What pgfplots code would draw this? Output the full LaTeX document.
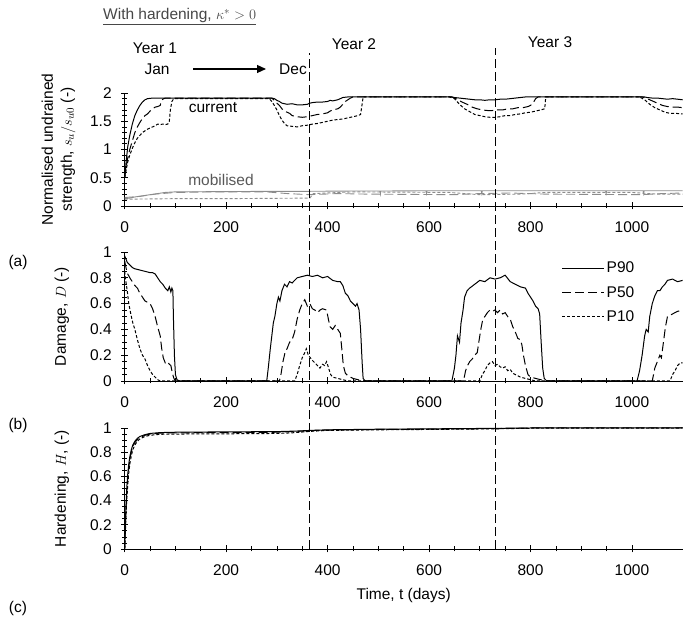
\documentclass[border=0pt]{standalone}
\usepackage{fontspec}
\setmainfont{Liberation Sans}
\usepackage{pgfplots}
\pgfplotsset{compat=1.18}
\usetikzlibrary{arrows.meta}

\newcommand{\fs}{\fontsize{15.5}{19}\selectfont}
\tikzset{vline/.style={black, line width=0.9pt, dash pattern=on 9pt off 4pt}}
\pgfplotsset{
  panel/.style={
    scale only axis, width=558pt,
    xmin=0, xmax=1100,
    axis x line=bottom, axis y line=left,
    axis line style={line width=0.9pt,-},
    xtick={0,200,...,1000}, minor x tick num=3,
    tick align=center, major tick length=7pt, minor tick length=5pt,
    tick style={line width=0.7pt, black},
    ticklabel style={font=\fs},
    xticklabel style={yshift=-9pt},
    yticklabel style={xshift=-6pt},
    /pgf/number format/assume math mode=true,
    /pgf/number format/1000 sep={},
    every axis y label/.style={at={(axis description cs:-0.1124,0.5)}, rotate=90, anchor=center, font=\fs, align=center},
    every axis x label/.style={at={(axis description cs:0.5,0)}, yshift=-46pt, anchor=center, font=\fs},
  },
  p90/.style={black, line width=1pt, solid},
  p50/.style={black, line width=1pt, dash pattern=on 9pt off 4pt},
  p10/.style={black, line width=1pt, dash pattern=on 3pt off 2pt},
  m90/.style={black!45, line width=0.9pt, solid},
  m50/.style={black!45, line width=0.9pt, dash pattern=on 9pt off 4pt},
  m10/.style={black!45, line width=0.9pt, dash pattern=on 3pt off 2pt},
}

\begin{document}
\begin{tikzpicture}
\path[use as bounding box] (0pt,0pt) rectangle (686pt,621pt);

% ---------------- (a) strength ----------------
\begin{axis}[panel, at={(124.7pt,415pt)}, anchor=south west, height=113pt,
  ymin=0, ymax=2, ytick={0,0.5,1,1.5,2}, minor y tick num=4,
  every axis y label/.style={at={(axis description cs:-0.1186,0.5)}, rotate=90, anchor=center, font=\fs, align=center},
  ylabel={Normalised undrained\\strength, $s_u/s_{u0}$ (-)}]
% mobilised (grey)
\addplot[m90] coordinates {(0,0.13) (10,0.14) (20,0.16) (35,0.18) (50,0.2) (65,0.22) (80,0.24) (100,0.25) (200,0.255) (300,0.26) (365,0.26) (450,0.265) (503,0.265) (504,0.21) (505,0.265) (594,0.27) (595,0.22) (596,0.27) (703,0.27) (704,0.22) (705,0.27) (948,0.27) (949,0.22) (950,0.27) (1022,0.27) (1023,0.22) (1024,0.27) (1100,0.27)};
\addplot[m50] coordinates {(0,0.15) (30,0.17) (60,0.21) (100,0.24) (180,0.25) (280,0.25) (320,0.22) (365,0.2) (420,0.22) (480,0.21) (650,0.2) (700,0.22) (760,0.23) (830,0.21) (1020,0.2) (1060,0.22) (1100,0.23)};
\addplot[m10] coordinates {(0,0.12) (100,0.13) (200,0.13) (365,0.14) (372,0.22) (450,0.25) (640,0.24) (700,0.2) (780,0.21) (830,0.24) (1000,0.24) (1050,0.21) (1100,0.21)};
% current
\addplot[p90] coordinates {(0,0.5) (3,0.8) (6,1.05) (10,1.25) (15,1.45) (20,1.6) (25,1.7) (30,1.78) (35,1.84) (40,1.88) (45,1.9) (55,1.91) (60,1.91) (290,1.91) (295,1.9) (300,1.87) (305,1.85) (310,1.82) (320,1.8) (330,1.81) (340,1.79) (350,1.79) (360,1.8) (365,1.82) (370,1.83) (380,1.84) (390,1.84) (400,1.85) (405,1.87) (410,1.86) (420,1.88) (425,1.9) (430,1.92) (440,1.93) (645,1.93) (650,1.92) (660,1.91) (670,1.9) (680,1.89) (690,1.88) (700,1.88) (710,1.87) (720,1.88) (730,1.88) (740,1.89) (750,1.89) (760,1.9) (770,1.91) (780,1.92) (790,1.93) (1025,1.93) (1030,1.92) (1040,1.91) (1050,1.91) (1060,1.9) (1070,1.89) (1080,1.9) (1090,1.89) (1100,1.88)};
\addplot[p50] coordinates {(0,0.5) (3,0.7) (6,0.85) (10,1.0) (15,1.15) (20,1.3) (25,1.4) (30,1.48) (35,1.55) (40,1.6) (45,1.63) (50,1.68) (55,1.72) (60,1.75) (65,1.76) (70,1.78) (72,1.85) (75,1.89) (80,1.91) (290,1.91) (295,1.87) (300,1.82) (305,1.78) (310,1.72) (315,1.68) (320,1.66) (325,1.64) (330,1.6) (340,1.58) (350,1.57) (360,1.58) (370,1.6) (380,1.62) (390,1.63) (400,1.65) (405,1.68) (410,1.7) (420,1.72) (425,1.75) (430,1.8) (435,1.85) (440,1.88) (445,1.91) (450,1.93) (645,1.93) (655,1.89) (665,1.84) (675,1.8) (685,1.75) (695,1.72) (705,1.7) (715,1.69) (725,1.69) (735,1.7) (745,1.7) (755,1.72) (765,1.72) (775,1.74) (785,1.74) (795,1.76) (800,1.78) (805,1.82) (810,1.9) (815,1.93) (1020,1.93) (1030,1.9) (1040,1.86) (1050,1.82) (1060,1.78) (1070,1.76) (1080,1.75) (1090,1.75) (1100,1.74)};
\addplot[p10] coordinates {(0,0.5) (3,0.65) (6,0.78) (10,0.9) (15,1.02) (20,1.12) (25,1.2) (30,1.25) (35,1.3) (40,1.33) (45,1.36) (50,1.38) (55,1.4) (60,1.42) (65,1.45) (70,1.44) (75,1.45) (80,1.44) (85,1.45) (88,1.5) (90,1.7) (93,1.85) (96,1.89) (100,1.9) (285,1.9) (290,1.85) (295,1.78) (300,1.7) (305,1.6) (310,1.52) (315,1.46) (320,1.42) (330,1.41) (340,1.4) (350,1.42) (360,1.43) (370,1.45) (380,1.46) (390,1.48) (400,1.5) (410,1.52) (420,1.53) (430,1.54) (440,1.56) (450,1.58) (460,1.6) (465,1.62) (468,1.8) (470,1.93) (640,1.93) (650,1.9) (660,1.8) (670,1.72) (680,1.67) (690,1.62) (700,1.6) (710,1.58) (720,1.57) (730,1.57) (740,1.58) (750,1.6) (760,1.6) (770,1.62) (780,1.63) (790,1.65) (800,1.66) (810,1.68) (820,1.7) (828,1.72) (830,1.93) (1015,1.93) (1025,1.88) (1035,1.8) (1045,1.74) (1055,1.7) (1065,1.66) (1075,1.64) (1085,1.64) (1100,1.63)};
\end{axis}

% ---------------- (b) damage ----------------
\begin{axis}[panel, at={(124.7pt,240pt)}, anchor=south west, height=129pt,
  ymin=0, ymax=1, ytick={0,0.2,...,1}, minor y tick num=3,
  ylabel={Damage, $D$ (-)},
  legend style={at={(axis cs:861,0.94)}, anchor=north west, draw=none, fill=none, font=\fs, row sep=8pt, inner sep=0pt},
  legend cell align=left,
  legend image code/.code={\draw[#1] (0pt,0pt) -- (42pt,0pt);}]
\addplot[p90] coordinates {(0,0.97) (2,0.95) (5,0.92) (10,0.9) (15,0.88) (20,0.87) (30,0.86) (40,0.85) (50,0.84) (55,0.84) (60,0.83) (65,0.8) (70,0.77) (75,0.75) (80,0.72) (85,0.7) (88,0.73) (91,0.69) (93,0.72) (95,0.7) (96,0.5) (98,0.2) (100,0.05) (103,0.01) (108,0) (280,0) (283,0.1) (287,0.25) (290,0.35) (293,0.45) (296,0.5) (300,0.6) (303,0.65) (306,0.62) (310,0.7) (315,0.75) (320,0.73) (325,0.77) (330,0.76) (335,0.78) (340,0.8) (350,0.81) (360,0.82) (370,0.81) (380,0.82) (390,0.8) (400,0.81) (410,0.78) (420,0.77) (425,0.77) (430,0.74) (435,0.68) (440,0.66) (445,0.62) (450,0.6) (455,0.58) (458,0.6) (462,0.55) (465,0.4) (468,0.15) (470,0.02) (474,0) (645,0) (650,0.1) (653,0.2) (656,0.35) (660,0.3) (663,0.45) (667,0.55) (670,0.65) (675,0.7) (680,0.72) (690,0.75) (700,0.78) (710,0.77) (720,0.8) (730,0.79) (740,0.8) (750,0.82) (760,0.77) (770,0.75) (780,0.73) (790,0.72) (795,0.68) (800,0.65) (805,0.62) (810,0.58) (815,0.56) (818,0.52) (821,0.3) (824,0.1) (827,0.02) (832,0) (1010,0) (1015,0.08) (1020,0.2) (1025,0.35) (1028,0.4) (1032,0.38) (1035,0.5) (1040,0.6) (1045,0.66) (1050,0.7) (1055,0.7) (1060,0.73) (1065,0.75) (1070,0.78) (1080,0.79) (1090,0.77) (1100,0.78)};
\addlegendentry{P90}
\addplot[p50] coordinates {(0,0.93) (3,0.87) (6,0.83) (10,0.8) (15,0.77) (20,0.74) (25,0.72) (30,0.68) (35,0.65) (40,0.62) (45,0.61) (50,0.6) (55,0.56) (60,0.5) (65,0.42) (70,0.35) (73,0.25) (76,0.18) (80,0.14) (84,0.15) (88,0.13) (91,0.12) (94,0.06) (97,0.02) (100,0) (305,0) (308,0.05) (312,0.15) (316,0.22) (320,0.25) (325,0.3) (330,0.32) (335,0.38) (340,0.48) (345,0.55) (350,0.6) (355,0.63) (360,0.58) (365,0.6) (370,0.56) (375,0.55) (380,0.53) (385,0.55) (390,0.56) (398,0.55) (402,0.47) (405,0.42) (410,0.4) (415,0.43) (420,0.4) (425,0.37) (428,0.25) (431,0.12) (435,0.06) (440,0.04) (445,0.03) (450,0.02) (460,0.01) (470,0) (668,0) (672,0.08) (676,0.12) (680,0.15) (685,0.17) (690,0.2) (695,0.22) (698,0.3) (702,0.4) (706,0.48) (710,0.5) (715,0.53) (720,0.55) (725,0.54) (730,0.55) (735,0.53) (740,0.55) (745,0.52) (750,0.53) (755,0.5) (760,0.48) (765,0.42) (770,0.38) (775,0.33) (780,0.32) (783,0.28) (786,0.2) (790,0.12) (795,0.05) (800,0.03) (810,0.02) (820,0.01) (830,0) (1040,0) (1045,0.1) (1050,0.15) (1055,0.2) (1058,0.18) (1062,0.3) (1066,0.42) (1070,0.5) (1080,0.52) (1090,0.54) (1100,0.55)};
\addlegendentry{P50}
\addplot[p10] coordinates {(0,0.85) (2,0.78) (5,0.7) (8,0.6) (12,0.52) (16,0.45) (20,0.4) (25,0.32) (30,0.25) (35,0.2) (40,0.17) (45,0.12) (50,0.08) (55,0.05) (60,0.03) (65,0.01) (70,0) (335,0) (340,0.05) (345,0.12) (350,0.18) (355,0.22) (358,0.25) (362,0.2) (366,0.18) (370,0.16) (375,0.14) (380,0.12) (385,0.1) (390,0.13) (394,0.12) (398,0.15) (402,0.1) (406,0.05) (410,0.03) (420,0.02) (430,0.01) (440,0) (700,0) (705,0.05) (710,0.08) (715,0.12) (720,0.14) (725,0.15) (730,0.12) (735,0.13) (740,0.11) (745,0.1) (750,0.11) (755,0.08) (760,0.09) (765,0.06) (770,0.05) (775,0.04) (780,0.03) (790,0.02) (800,0.01) (810,0) (1075,0) (1080,0.05) (1085,0.08) (1090,0.12) (1095,0.14) (1100,0.14)};
\addlegendentry{P10}
\end{axis}

% ---------------- (c) hardening ----------------
\begin{axis}[panel, at={(124.7pt,72pt)}, anchor=south west, height=121pt,
  ymin=0, ymax=1, ytick={0,0.2,...,1}, minor y tick num=3, clip=false,
  ylabel={Hardening, $H$, (-)}, xlabel={Time, t (days)}]
\addplot[p10] coordinates {(0,0) (1,0.1) (2,0.22) (4,0.4) (6,0.53) (8,0.63) (10,0.7) (13,0.77) (16,0.82) (20,0.86) (25,0.89) (30,0.91) (40,0.93) (50,0.94) (70,0.948) (100,0.95) (200,0.952) (300,0.955) (330,0.96) (365,0.972) (400,0.98) (500,0.985) (600,0.988) (730,0.993) (800,0.998) (1100,1)};
\addplot[p50] coordinates {(0,0) (1,0.12) (2,0.27) (4,0.46) (6,0.58) (8,0.67) (10,0.74) (13,0.8) (16,0.85) (20,0.88) (25,0.905) (30,0.92) (40,0.94) (50,0.95) (70,0.958) (100,0.96) (200,0.962) (300,0.965) (340,0.972) (365,0.978) (400,0.983) (500,0.988) (600,0.99) (730,0.995) (800,1) (1100,1)};
\addplot[p90] coordinates {(0,0) (1,0.15) (2,0.3) (4,0.5) (6,0.62) (8,0.7) (10,0.76) (13,0.82) (16,0.86) (20,0.89) (25,0.915) (30,0.93) (40,0.945) (50,0.955) (70,0.962) (100,0.965) (200,0.968) (300,0.97) (340,0.975) (365,0.98) (400,0.985) (500,0.99) (600,0.993) (730,0.997) (800,1) (1100,1)};
\draw[vline] (axis cs:365,0) -- ++(0pt,496pt);
\draw[vline] (axis cs:730,0) -- ++(0pt,501pt);
\end{axis}

% ---------------- annotations ----------------
\node[anchor=west, inner sep=0pt, text=black!72, font=\fs] at (103pt,604pt) {\underline{With hardening, $\kappa^{*} > 0$}};
\node[font=\fs] at (155pt,573pt) {Year 1};
\node[font=\fs] at (354pt,577pt) {Year 2};
\node[font=\fs] at (550pt,579pt) {Year 3};
\node[font=\fs] at (157pt,552pt) {Jan};
\node[font=\fs] at (293pt,552pt) {Dec};
\draw[line width=1.1pt, -{Triangle[length=9pt,width=8pt]}] (193pt,552pt) -- (266pt,552pt);
\node[font=\fs] at (213pt,513pt) {current};
\node[font=\fs, text=black!65] at (221pt,441pt) {mobilised};
\node[font=\fs] at (18pt,359pt) {(a)};
\node[font=\fs] at (18pt,196pt) {(b)};
\node[font=\fs] at (18pt,13pt) {(c)};
\end{tikzpicture}
\end{document}
